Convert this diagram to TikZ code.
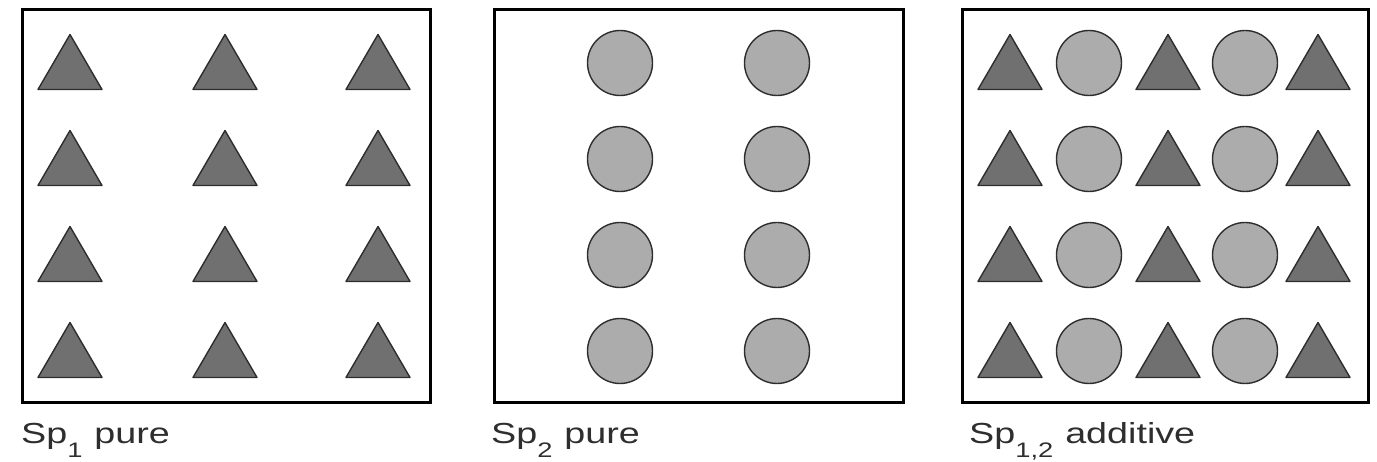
\documentclass[tikz,border=0pt]{standalone}
\usepackage{fontspec}
\setmainfont{Liberation Sans}
\newfontfamily\capfont[FakeStretch=1.3]{Liberation Sans}
\usetikzlibrary{calc}
\definecolor{TriGray}{RGB}{112,112,112}
\definecolor{DiscGray}{RGB}{172,172,172}
\definecolor{EdgeGray}{RGB}{45,45,45}
\NewDocumentCommand{\Tri}{O{(0,0)}}{
    \begin{scope}[shift={#1}]
    \draw[EdgeGray, line width=1.4pt, line join=round, fill=TriGray] (-32,27.5) -- (0,-27.5) -- (32,27.5) -- cycle;
    \end{scope}
}
\NewDocumentCommand{\Disc}{O{(0,0)}}{
    \begin{scope}[shift={#1}]
    \draw[EdgeGray, line width=1.4pt, fill=DiscGray] (0,0) circle (32.5);
    \end{scope}
}
\newcommand{\SpLabel}[2]{Sp\raisebox{-14pt}{\fontsize{21}{21}\selectfont #1}\hspace{12pt}#2}
\tikzset{
    panel/.style={draw=black, line width=3pt},
    caption/.style={anchor=base west, inner sep=0pt, text=black!82, font=\capfont\fontsize{29}{32}\selectfont}
}
\begin{document}
\begin{tikzpicture}[x=1pt, y=-1pt]
\useasboundingbox (0,0) rectangle (1377,462);

% panels
\draw[panel] (22,10) rectangle (430,403);
\draw[panel] (494,10) rectangle (903,403);
\draw[panel] (962,10) rectangle (1368,403);

% Sp1 pure
\foreach \y in {62,158,254,350}{
    \foreach \x in {70,225,378}{
        \Tri[(\x,\y)]
    }
}

% Sp2 pure
\foreach \y in {63,159,255,351}{
    \foreach \x in {620,777}{
        \Disc[(\x,\y)]
    }
}

% Sp1,2 additive
\foreach \y in {62,158,254,350}{
    \foreach \x in {1010,1168,1318}{
        \Tri[(\x,\y)]
    }
    \foreach \x in {1089,1245}{
        \Disc[(\x,\y+1)]
    }
}

\node[caption] (cap-a) at (21,443) {\SpLabel{1}{pure}};
\node[caption] (cap-b) at (491,443) {\SpLabel{2}{pure}};
\node[caption] (cap-c) at (969,443) {\SpLabel{1,2}{additive}};

\end{tikzpicture}
\end{document}
